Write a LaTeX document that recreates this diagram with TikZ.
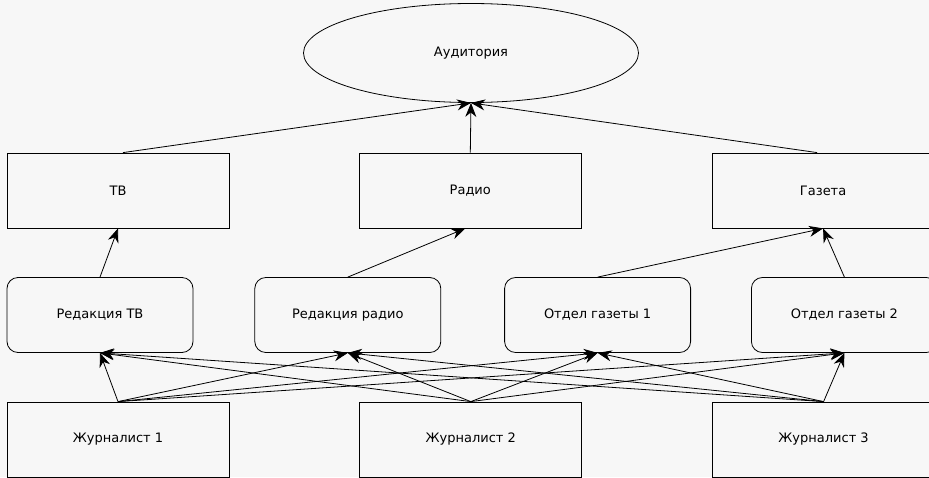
\documentclass[tikz,border=0pt]{standalone}
\usepackage{fontspec}
\setmainfont{DejaVu Sans}
\usepackage{xcolor}
\usetikzlibrary{positioning, arrows.meta, shapes.geometric}

\definecolor{paper}{HTML}{F7F7F7}

\begin{document}
\begin{tikzpicture}[
      x=1pt, y=-1pt,
      font=\fontsize{13}{15}\selectfont,
      box/.style={
        draw,
        fill=paper,
        line width=0.8pt,
        minimum width=222pt,
        minimum height=75pt,
        align=center
      },
      roundbox/.style={
        box,
        rounded corners=11pt,
        minimum width=186pt
      },
      arrow/.style={
        -{Stealth[length=14pt, width=11pt, inset=4.5pt]},
        line width=0.8pt
      }
    ]

    \clip (0,0) rectangle (929,477);
    \fill[paper] (0,0) rectangle (929,477);

    % audience
    \node[draw, ellipse, fill=paper, line width=0.8pt,
      minimum width=335pt, minimum height=99pt] (aud) at (471,53) {Аудитория};

    % media
    \node[box] (tv) at (118,190.5) {ТВ};
    \node[box, right=129.5pt of tv] (radio) {Радио};
    \node[box, right=130pt of radio] (gazeta) {Газета};

    % editorial offices
    \node[roundbox] (redtv) at (100,315) {Редакция ТВ};
    \node[roundbox, right=61pt of redtv] (redradio) {Редакция радио};
    \node[roundbox, right=63pt of redradio] (otdel1) {Отдел газеты 1};
    \node[roundbox, right=60pt of otdel1] (otdel2) {Отдел газеты 2};

    % journalists
    \node[box] (zh1) at (118,439.5) {Журналист 1};
    \node[box, right=130pt of zh1] (zh2) {Журналист 2};
    \node[box, right=130pt of zh2] (zh3) {Журналист 3};

    \draw[arrow] ([xshift=5pt]tv.north) -- (aud.south);
    \draw[arrow] (radio.north) -- (aud.south);
    \draw[arrow] ([xshift=-6pt]gazeta.north) -- (aud.south);

    \draw[arrow] (redtv.north) -- (tv.south);
    \draw[arrow] (redradio.north) -- ([xshift=-5pt]radio.south);
    \draw[arrow] (otdel1.north) -- (gazeta.south);
    \draw[arrow] (otdel2.north) -- (gazeta.south);

    \foreach \zh in {zh1, zh2, zh3}
      \foreach \dep in {redtv, redradio, otdel1, otdel2}
        \draw[arrow] (\zh.north) -- (\dep.south);

\end{tikzpicture}
\end{document}
